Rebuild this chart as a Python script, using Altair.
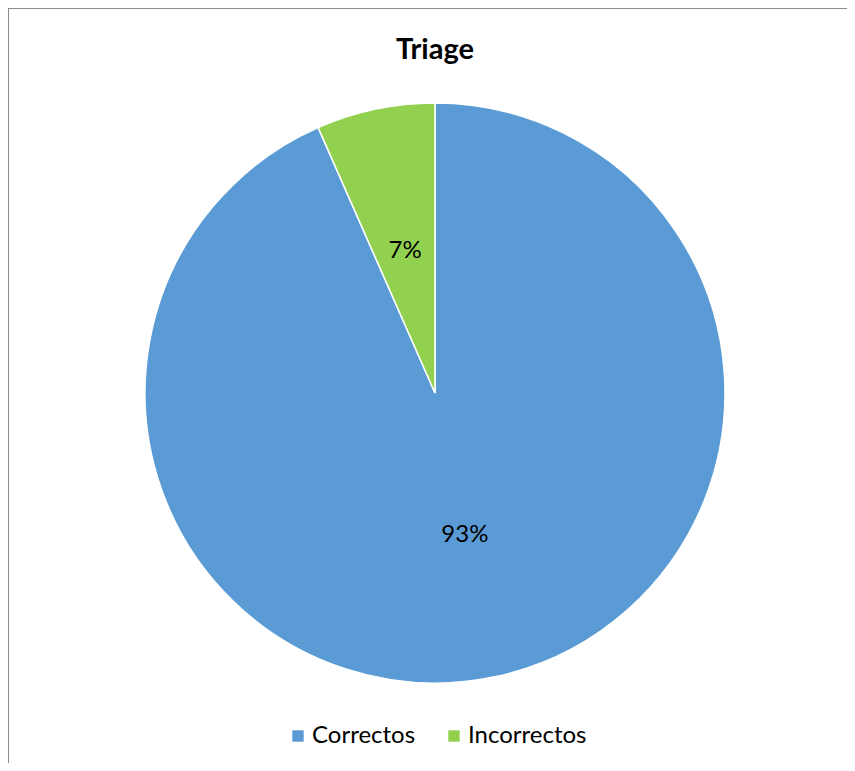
import altair as alt
import pandas as pd

categories = ["Correctos", "Incorrectos"]
shares = [0.934, 0.066]
order = [1, 2]
colors = ["#5B9BD5", "#92D050"]

W, H = 839, 755
CX, CY, R = 427, 385, 290
FONT = "Lato"

df = pd.DataFrame({"categoria": categories, "valor": shares, "orden": order})

color_scale = alt.Scale(domain=categories, range=colors)

base = alt.Chart(df).encode(
    theta=alt.Theta("valor:Q", stack=True),
    order=alt.Order("orden:Q"),
)

pie = base.mark_arc(outerRadius=R, stroke="white", strokeWidth=1.5).encode(
    x=alt.value(CX),
    y=alt.value(CY),
    color=alt.Color(
        "categoria:N",
        scale=color_scale,
        sort=categories,
        legend=alt.Legend(
            title=None,
            orient="none",
            legendX=278,
            legendY=716,
            direction="horizontal",
            symbolType="square",
            symbolSize=130,
            symbolStrokeWidth=0,
            labelFont=FONT,
            labelFontSize=24,
            labelColor="#000000",
            labelOffset=2,
            columnPadding=26,
            padding=0,
        ),
    ),
)

labels = base.mark_text(
    radius=145, font=FONT, fontSize=24, color="#000000", align="center", baseline="middle"
).encode(
    x=alt.value(CX),
    y=alt.value(CY),
    text=alt.Text("valor:Q", format=".0%"),
)

title = alt.Chart(pd.DataFrame({"t": ["Triage"]})).mark_text(
    font=FONT, fontSize=29, fontWeight="bold", color="#000000", align="center", baseline="middle"
).encode(x=alt.value(CX), y=alt.value(42), text="t:N")

top_rule = alt.Chart(pd.DataFrame({"a": [0]})).mark_rule(color="#8c8c8c", strokeWidth=1).encode(
    x=alt.value(0), x2=alt.value(W), y=alt.value(0.5)
)
left_rule = alt.Chart(pd.DataFrame({"a": [0]})).mark_rule(color="#8c8c8c", strokeWidth=1).encode(
    x=alt.value(0.5), y=alt.value(0), y2=alt.value(H)
)

chart = (
    alt.layer(top_rule, left_rule, pie, labels, title)
    .properties(width=W, height=H, padding=0, autosize=alt.AutoSizeParams(type="none"))
    .configure_view(stroke=None)
    .configure(background="white")
)

chart.save("out.html", embed_options={"renderer": "svg", "actions": False})
